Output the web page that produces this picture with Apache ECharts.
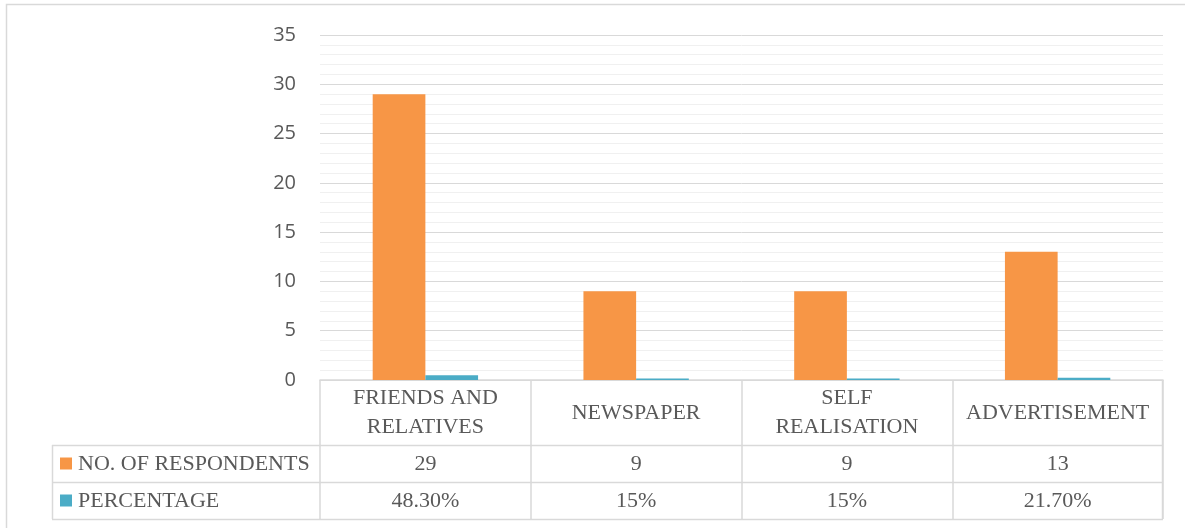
<!DOCTYPE html>
<html><head><meta charset="utf-8">
<script src="https://cdn.jsdelivr.net/npm/echarts@6/dist/echarts.min.js"></script>
<style>html,body{margin:0;padding:0;background:#fff;}#c{width:1185px;height:528px;}</style>
</head><body><div id="c"></div>
<script>
const categories = ['FRIENDS AND\nRELATIVES', 'NEWSPAPER', 'SELF\nREALISATION', 'ADVERTISEMENT'];
const seriesNames = ['NO. OF RESPONDENTS', 'PERCENTAGE'];
const respondents = [29, 9, 9, 13];
const percentage = [0.483, 0.15, 0.15, 0.217];
const respondentLabels = ['29', '9', '9', '13'];
const percentLabels = ['48.30%', '15%', '15%', '21.70%'];
const yMin = 0, yMax = 35, yInterval = 5;

const colors = ['#F79646', '#4BACC6'];
const lineColor = '#d9d9d9';
const textColor = '#595959';
const serif = 'Liberation Serif';
const serifFont = '22px "' + serif + '"';

const chart = echarts.init(document.getElementById('c'), null, {renderer: 'canvas'});
const gridTop = 35, gridBottomY = 380, gridLeft = 320, gridRight = 1163;
const row1Top = 445, row2Top = 482, tableBottom = 519, tableLeft = 52;

chart.setOption({
  animation: false,
  grid: {left: gridLeft, right: 1185 - gridRight, top: gridTop, bottom: 528 - gridBottomY},
  xAxis: {
    type: 'category', data: categories,
    axisLine: {show: true, lineStyle: {color: lineColor, width: 1.5}},
    axisTick: {show: true, alignWithLabel: false, length: tableBottom - gridBottomY, lineStyle: {color: lineColor, width: 1.5}},
    axisLabel: {fontFamily: serif, fontSize: 22, color: textColor, lineHeight: 29, margin: 33, verticalAlign: 'middle', interval: 0}
  },
  yAxis: {
    type: 'value', min: yMin, max: yMax, interval: yInterval,
    axisLine: {show: false}, axisTick: {show: false},
    axisLabel: {fontFamily: 'Open Sans', fontSize: 20, color: textColor, margin: 24},
    splitLine: {lineStyle: {color: lineColor, width: 1}},
    minorTick: {show: false, splitNumber: 5},
    minorSplitLine: {show: true, lineStyle: {color: '#f0f0f0', width: 1}}
  },
  series: [
    {name: seriesNames[0], type: 'bar', data: respondents, itemStyle: {color: colors[0]}, barGap: '0%', barCategoryGap: '50%'},
    {name: seriesNames[1], type: 'bar', data: percentage, itemStyle: {color: colors[1]}, barGap: '0%', barCategoryGap: '50%'}
  ]
});

const g = [];
g.push({type: 'rect', shape: {x: 6.5, y: 4.5, width: 1300, height: 700}, style: {fill: 'none', stroke: lineColor, lineWidth: 1.5}, silent: true});
[row1Top, row2Top, tableBottom].forEach(y => {
  g.push({type: 'line', shape: {x1: tableLeft, y1: y + 0.5, x2: gridRight, y2: y + 0.5}, style: {stroke: lineColor, lineWidth: 1.5}});
});
g.push({type: 'line', shape: {x1: tableLeft + 0.5, y1: row1Top, x2: tableLeft + 0.5, y2: tableBottom}, style: {stroke: lineColor, lineWidth: 1.5}});
g.push({type: 'line', shape: {x1: gridRight - 0.5, y1: gridBottomY, x2: gridRight - 0.5, y2: tableBottom}, style: {stroke: lineColor, lineWidth: 1.5}});
const rowMids = [(row1Top + row2Top) / 2, (row2Top + tableBottom) / 2];
seriesNames.forEach((n, k) => {
  g.push({type: 'rect', shape: {x: 60, y: rowMids[k] - 6, width: 12, height: 12}, style: {fill: colors[k]}});
  g.push({type: 'text', x: 78, y: rowMids[k] + 1, style: {text: n, font: serifFont, fill: textColor, textAlign: 'left', textVerticalAlign: 'middle'}});
});
const rows = [respondentLabels, percentLabels];
categories.forEach((c, i) => {
  const px = chart.convertToPixel({xAxisIndex: 0}, i);
  rows.forEach((r, k) => {
    g.push({type: 'text', x: px, y: rowMids[k] + 1, style: {text: r[i], font: serifFont, fill: textColor, textAlign: 'center', textVerticalAlign: 'middle'}});
  });
});
chart.setOption({graphic: {elements: g}});
</script></body></html>
